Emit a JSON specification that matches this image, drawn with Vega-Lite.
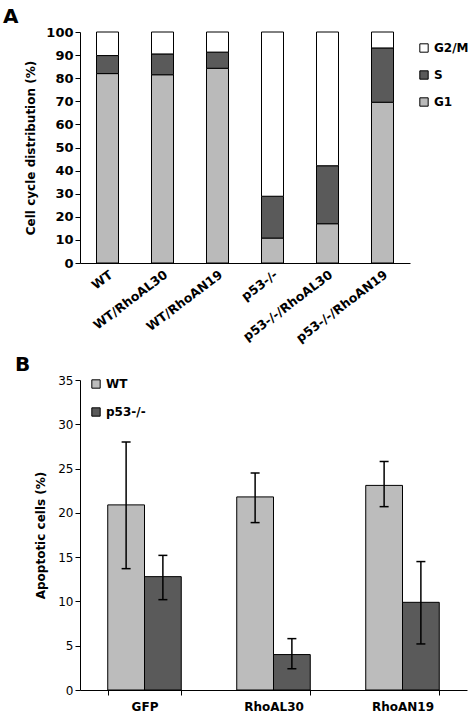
{
  "$schema": "https://vega.github.io/schema/vega-lite/v6.json",
  "padding": {"left": 3, "top": 7, "right": 0, "bottom": 0},
  "config": {
    "font": "DejaVu Sans",
    "view": {"stroke": null},
    "axis": {"domainColor": "black", "tickColor": "black", "labelColor": "black", "titleColor": "black", "grid": false, "domainWidth": 1},
    "concat": {"spacing": 10}
  },
  "resolve": {"scale": {"color": "independent"}, "legend": {"color": "independent"}},
  "vconcat": [
    {
      "title": {"text": "A", "anchor": "start", "frame": "group", "dx": -77, "fontSize": 20, "fontWeight": "bold", "offset": -1, "color": "black"},
      "width": 330,
      "height": 231,
      "data": {"values": [
        {"group": "WT", "phase": "G1", "pct": 82},
        {"group": "WT", "phase": "S", "pct": 7.8},
        {"group": "WT", "phase": "G2/M", "pct": 10.2},
        {"group": "WT/RhoAL30", "phase": "G1", "pct": 81.5},
        {"group": "WT/RhoAL30", "phase": "S", "pct": 9},
        {"group": "WT/RhoAL30", "phase": "G2/M", "pct": 9.5},
        {"group": "WT/RhoAN19", "phase": "G1", "pct": 84.3},
        {"group": "WT/RhoAN19", "phase": "S", "pct": 7},
        {"group": "WT/RhoAN19", "phase": "G2/M", "pct": 8.7},
        {"group": "p53-/-", "phase": "G1", "pct": 10.8},
        {"group": "p53-/-", "phase": "S", "pct": 18.1},
        {"group": "p53-/-", "phase": "G2/M", "pct": 71.1},
        {"group": "p53-/-/RhoAL30", "phase": "G1", "pct": 17},
        {"group": "p53-/-/RhoAL30", "phase": "S", "pct": 25.1},
        {"group": "p53-/-/RhoAL30", "phase": "G2/M", "pct": 57.9},
        {"group": "p53-/-/RhoAN19", "phase": "G1", "pct": 69.6},
        {"group": "p53-/-/RhoAN19", "phase": "S", "pct": 23.5},
        {"group": "p53-/-/RhoAN19", "phase": "G2/M", "pct": 6.9}
      ]},
      "transform": [{"calculate": "indexof(['G1','S','G2/M'], datum.phase)", "as": "stackOrder"}],
      "mark": {"type": "bar", "stroke": "black", "strokeWidth": 1},
      "encoding": {
        "x": {"field": "group", "type": "nominal", "sort": null,
          "scale": {"paddingInner": 0.6, "paddingOuter": 0.3},
          "axis": {"title": null, "labelAngle": -37, "labelFontSize": 12.5, "labelFontWeight": "bold", "ticks": false, "labelPadding": 5}},
        "y": {"field": "pct", "type": "quantitative", "stack": "zero",
          "scale": {"domain": [0, 100]},
          "axis": {"values": [0, 10, 20, 30, 40, 50, 60, 70, 80, 90, 100], "title": "Cell cycle distribution (%)", "titleFontSize": 12, "titleFontWeight": "bold", "labelFontSize": 13, "labelFontWeight": "bold", "tickSize": 5, "labelPadding": 2, "titlePadding": 8}},
        "color": {"field": "phase", "type": "nominal",
          "scale": {"domain": ["G2/M", "S", "G1"], "range": ["#ffffff", "#5a5a5a", "#bababa"]},
          "legend": {"title": null, "orient": "none", "legendX": 338, "legendY": 10, "symbolType": "square", "symbolSize": 70, "symbolStrokeColor": "black", "symbolStrokeWidth": 1, "symbolOpacity": 1, "labelFontSize": 12, "labelFontWeight": "bold", "labelColor": "black", "rowPadding": 13}},
        "order": {"field": "stackOrder", "type": "quantitative"}
      }
    },
    {
      "title": {"text": "B", "anchor": "start", "frame": "group", "dx": -65, "fontSize": 20, "fontWeight": "bold", "offset": -1, "color": "black"},
      "width": 387,
      "height": 310,
      "data": {"values": [
        {"treatment": "GFP", "genotype": "WT", "value": 20.9, "lo": 13.7, "hi": 28.0},
        {"treatment": "GFP", "genotype": "p53-/-", "value": 12.8, "lo": 10.2, "hi": 15.2},
        {"treatment": "RhoAL30", "genotype": "WT", "value": 21.8, "lo": 18.9, "hi": 24.5},
        {"treatment": "RhoAL30", "genotype": "p53-/-", "value": 4.0, "lo": 2.4, "hi": 5.8},
        {"treatment": "RhoAN19", "genotype": "WT", "value": 23.1, "lo": 20.7, "hi": 25.8},
        {"treatment": "RhoAN19", "genotype": "p53-/-", "value": 9.9, "lo": 5.2, "hi": 14.5}
      ]},
      "encoding": {
        "x": {"field": "treatment", "type": "nominal", "sort": null,
          "scale": {"paddingInner": 0.43, "paddingOuter": 0.215},
          "axis": {"title": null, "labelAngle": 0, "labelFontSize": 12, "labelFontWeight": "bold", "tickBand": "extent", "tickSize": 5, "labelPadding": 6}},
        "xOffset": {"field": "genotype", "type": "nominal", "sort": null}
      },
      "layer": [
        {
          "mark": {"type": "bar", "stroke": "black", "strokeWidth": 1},
          "encoding": {
            "y": {"field": "value", "type": "quantitative",
              "scale": {"domain": [0, 35]},
              "axis": {"values": [0, 5, 10, 15, 20, 25, 30, 35], "title": "Apoptotic cells (%)", "titleFontSize": 12, "titleFontWeight": "bold", "labelFontSize": 12, "labelFontWeight": "normal", "tickSize": 5, "labelPadding": 2, "titlePadding": 10}},
            "color": {"field": "genotype", "type": "nominal",
              "scale": {"domain": ["WT", "p53-/-"], "range": ["#bcbcbc", "#5a5a5a"]},
              "legend": {"title": null, "orient": "none", "legendX": 10, "legendY": -2, "symbolType": "square", "symbolSize": 70, "symbolStrokeColor": "black", "symbolStrokeWidth": 1, "symbolOpacity": 1, "labelFontSize": 12, "labelFontWeight": "bold", "labelColor": "black", "rowPadding": 14}}
          }
        },
        {
          "mark": {"type": "rule", "color": "black", "strokeWidth": 1.5},
          "encoding": {
            "y": {"field": "lo", "type": "quantitative"},
            "y2": {"field": "hi"}
          }
        },
        {
          "mark": {"type": "tick", "color": "black", "thickness": 1.5, "size": 9, "opacity": 1},
          "encoding": {"y": {"field": "lo", "type": "quantitative"}}
        },
        {
          "mark": {"type": "tick", "color": "black", "thickness": 1.5, "size": 9, "opacity": 1},
          "encoding": {"y": {"field": "hi", "type": "quantitative"}}
        }
      ]
    }
  ]
}
